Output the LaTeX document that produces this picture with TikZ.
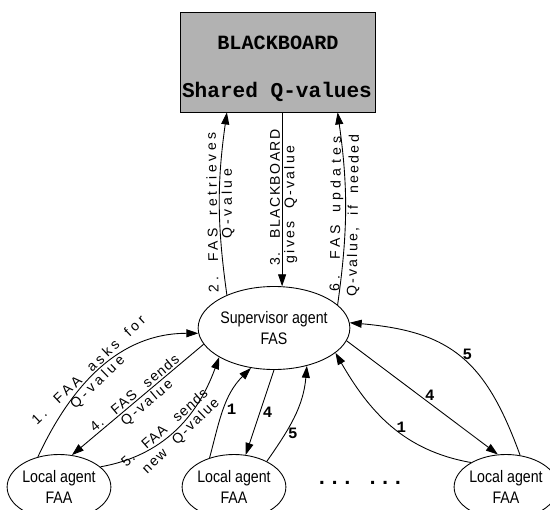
\documentclass[tikz,border=0pt]{standalone}
\usepackage{fontspec}
\setmainfont{Liberation Sans}
\setmonofont{Liberation Mono}
\newfontfamily\agentfont[FakeStretch=0.85]{Liberation Sans}
\newcommand{\spacedtext}[2]{{\addfontfeature{LetterSpace=#1}\spaceskip=0.9em\relax #2}}
\usetikzlibrary{shapes.geometric, arrows.meta}

\begin{document}
\begin{tikzpicture}[line width=0.5pt,
  board/.style={draw, fill=gray!60, minimum width=3.9cm, minimum height=2cm},
  bbtext/.style={font=\ttfamily\bfseries\fontsize{#1}{14}\selectfont},
  agent/.style={ellipse, draw, align=center, inner sep=0pt, font=\agentfont\fontsize{9.5}{12}\selectfont},
  arr/.style={-{Triangle[length=2.4mm, width=1.6mm]}},
  lbl/.style={font=\fontsize{8}{9}\selectfont, inner sep=1pt},
  num/.style={font=\ttfamily\bfseries\fontsize{9}{10}\selectfont, inner sep=1.5pt}]
\useasboundingbox (0, 0) rectangle (11, 10.18);

\node[board] (bb) at (5.55, 8.94) {};
\node[bbtext=11.5] (bbname) at (5.56, 9.32) {BLACKBOARD};
\node[bbtext=12] (bbvals) at (5.54, 8.34) {Shared Q-values};

\node[agent, minimum width=2.6cm, minimum height=1.66cm] (sup) at (5.48, 3.62) {Supervisor agent\\FAS};

\node[agent, minimum width=1.86cm, minimum height=1.3cm] (l1) at (1.18, 0.44) {Local agent\\FAA};
\node[agent, minimum width=1.86cm, minimum height=1.3cm] (m) at (4.68, 0.44) {Local agent\\FAA};
\node[agent, minimum width=1.86cm, minimum height=1.3cm] (r) at (10.12, 0.44) {Local agent\\FAA};

\node[font=\ttfamily\bfseries\fontsize{12}{12}\selectfont] (more) at (7.2, 0.52) {... ...};

% blackboard <-> supervisor
\draw[arr] (sup.145) to[bend left=8]
  node[lbl, pos=0.45, sloped, allow upside down, above] {\spacedtext{26}{2. FAS retrieves}}
  node[lbl, pos=0.5, sloped, allow upside down, below] {\spacedtext{24}{Q-value}}
  (sup.145 |- bb.south);
\draw[arr] (sup.79 |- bb.south) -- (sup.79)
  node[lbl, pos=0.49, rotate=90, above] {\spacedtext{10}{3. BLACKBOARD}}
  node[lbl, pos=0.53, rotate=90, below] {\spacedtext{16}{gives Q-value}};
\draw[arr] (sup.20) to[bend right=8]
  node[lbl, pos=0.47, sloped, allow upside down, above] {\spacedtext{30}{6. FAS updates}}
  node[lbl, pos=0.46, sloped, allow upside down, below] {\spacedtext{16}{Q-value, if needed}}
  (sup.20 |- bb.south);

% first local agent
\draw[arr] (l1.125) to[out=65, in=180]
  node[lbl, pos=0.45, sloped, above] {\spacedtext{24}{1. FAA asks for}}
  node[lbl, pos=0.44, sloped, below] {\spacedtext{24}{Q-value}}
  (sup.184);
\draw[arr] (sup.193) -- (l1.68)
  node[lbl, pos=0.49, sloped, above] {\spacedtext{9}{4. FAS sends}}
  node[lbl, pos=0.47, sloped, below] {\spacedtext{16}{Q-value}};
\draw[arr] (l1.26) to[out=10, in=250]
  node[lbl, pos=0.46, sloped, above, inner sep=2pt] {\spacedtext{7}{5. FAA sends}}
  node[lbl, pos=0.5, sloped, below] {\spacedtext{12}{new Q-value}}
  (sup.208);

% second local agent
\draw[arr] (m.130) to[out=75, in=225] node[num, pos=0.5, right] {1} (sup.240);
\draw[arr] (sup.270) -- (m.70) node[num, midway, right] {4};
\draw[arr] (m.38) to[out=55, in=265] node[num, pos=0.3, right] {5} (sup.311);

% last local agent
\draw[arr] (r.145) to[out=170, in=300] node[num, pos=0.42, above, inner sep=0.5pt] {1} (sup.338);
\draw[arr] (sup.350) -- (r.104) node[num, pos=0.55, above] {4};
\draw[arr] (r.66) to[out=110, in=-5, looseness=1.2] node[num, pos=0.45, above] {5} (sup.4);

\end{tikzpicture}
\end{document}
